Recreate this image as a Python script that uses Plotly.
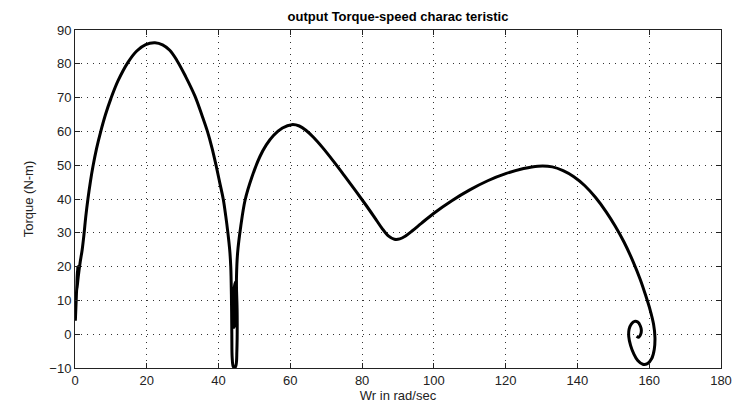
import plotly.graph_objects as go

# Curve (speed in rad/sec, torque in N-m)
speed = [0.1, 0.4, 0.8, 0.6, 0.5, 0.9, 1.4, 2.0, 2.5, 3.0, 3.6, 4.3, 5.0, 6.0, 7.2, 8.5, 10.0, 12.0,
         14.8, 17.2, 19.7, 22.3, 24.4, 26.4, 28.4, 30.8, 33.4, 35.3, 36.9, 38.2, 39.3, 40.3, 41.3, 42.0,
         42.6, 43.1, 43.4, 43.6, 43.7, 43.8, 44.1, 44.5, 44.9, 45.1, 45.2, 45.1, 44.8, 44.4, 44.2, 44.3,
         44.7, 45.0, 45.0, 45.3, 46.2, 47.4, 49.3, 51.5, 53.3, 55.3, 57.8, 60.4, 62.5, 64.5, 66.5, 69.0,
         72.0, 75.0, 78.0, 81.0, 83.5, 85.5, 87.3, 89.0, 90.5, 92.0, 94.0, 96.5, 100.0, 105.0, 110.0,
         115.0, 120.0, 125.0, 129.0, 133.0, 136.0, 139.0, 142.0, 145.0, 148.0, 150.5, 153.0, 155.5,
         157.5, 159.0, 160.3, 161.2, 161.6, 161.4, 160.7, 159.5, 158.2, 156.8, 155.7, 154.8, 154.3,
         154.4, 155.0, 155.9, 156.8, 157.5, 157.8, 157.6, 157.1, 156.5]
torque = [4.0, 12.0, 20.0, 17.0, 13.0, 17.0, 21.0, 25.0, 29.5, 34.8, 40.0, 45.2, 49.6, 54.9, 60.1, 65.0,
          69.7, 75.0, 80.5, 83.8, 85.7, 86.2, 85.6, 84.0, 81.0, 76.3, 70.5, 65.0, 60.0, 55.0, 50.0, 45.0,
          40.0, 35.0, 30.0, 25.0, 20.0, 10.0, 0.0, -7.0, -9.6, -10.0, -9.0, -5.0, 3.0, 10.0, 15.5, 14.0,
          8.0, 2.0, 4.0, 10.0, 17.0, 24.0, 32.0, 39.7, 46.5, 52.5, 56.0, 58.8, 61.0, 62.0, 61.6, 60.2,
          58.2, 55.2, 51.2, 47.0, 42.7, 38.3, 34.5, 31.4, 29.1, 28.1, 28.2, 29.0, 30.6, 32.8, 35.8, 39.5,
          42.7, 45.4, 47.5, 49.0, 49.7, 49.5, 48.4, 46.6, 44.0, 40.5, 36.2, 32.0, 27.2, 21.5, 16.2, 11.5,
          7.0, 3.0, -1.0, -4.5, -7.2, -8.7, -8.9, -7.8, -5.8, -3.3, -0.7, 1.5, 3.0, 3.8, 3.6, 2.5, 1.2,
          -0.1, -0.9, -0.6]

x_ticks = [0, 20, 40, 60, 80, 100, 120, 140, 160, 180]
y_ticks = [-10, 0, 10, 20, 30, 40, 50, 60, 70, 80, 90]

fig = go.Figure(go.Scatter(x=speed, y=torque, mode="lines",
                           line=dict(color="black", width=3, shape="spline", smoothing=1.0),
                           showlegend=False, hoverinfo="skip"))

font = "Liberation Sans, Arial, sans-serif"
axis_common = dict(
    showline=True, linecolor="#222", linewidth=1, mirror="ticks",
    ticks="inside", ticklen=5, tickcolor="#222",
    showgrid=True, gridcolor="#333", gridwidth=1, griddash="1px,5px",
    zeroline=False, tickfont=dict(family=font, size=13, color="#222"),
    automargin=False,
)
fig.update_xaxes(range=[0, 180], tickvals=x_ticks, **axis_common,
                 title=dict(text="Wr in rad/sec", font=dict(family=font, size=13, color="#222"), standoff=2))
fig.update_yaxes(range=[-10, 90], tickvals=y_ticks, **axis_common,
                 title=dict(text="Torque (N-m)", font=dict(family=font, size=13, color="#222"), standoff=12))
fig.update_layout(
    width=733, height=405,
    margin=dict(l=75, r=12, t=30, b=37),
    paper_bgcolor="white", plot_bgcolor="white",
    title=dict(text="<b>output Torque-speed charac teristic</b>", x=0.543, xanchor="center",
               y=0.96, yanchor="middle", font=dict(family=font, size=13, color="black"),
               automargin=False),
)
fig.write_html("out.html", config={"displayModeBar": False},
               post_script="document.body.style.margin='0';document.body.style.overflow='hidden';")
